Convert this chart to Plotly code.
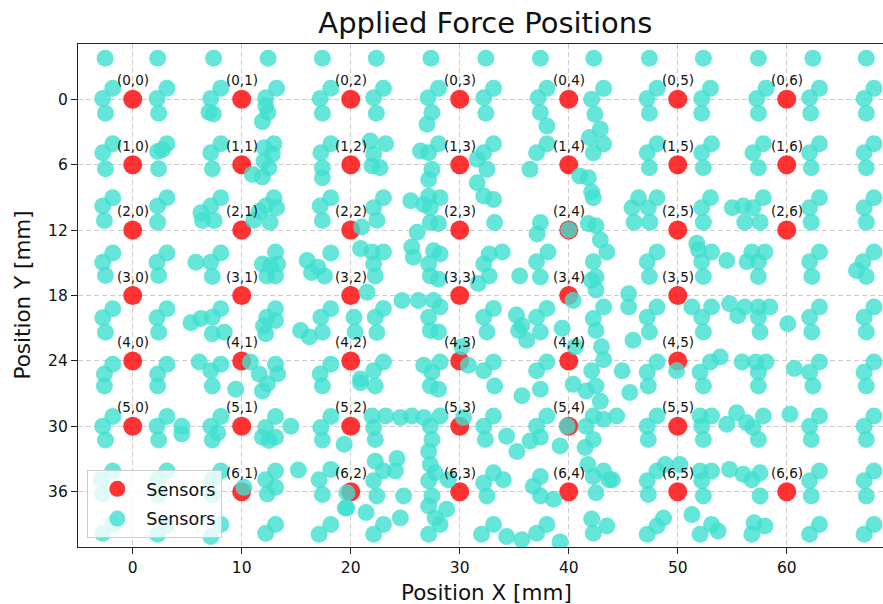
import plotly.graph_objects as go

# ---------------- data ----------------
sensor_cols_mm = [0, 10, 20, 30, 40, 50, 60]
sensor_rows_mm = [0, 6, 12, 18, 24, 30, 36]
# grid cells (row, col) with no sensor drawn in the reference
absent_sensors = [(3, 6), (4, 6), (5, 6), (6, 0)]
x_ticks = [0, 10, 20, 30, 40, 50, 60]
y_ticks = [0, 6, 12, 18, 24, 30, 36]

# applied force positions (x, y) in mm, grouped in horizontal bands
forces_top = [(-2.53, -3.76), (2.29, -3.76), (7.42, -3.76), (12.42, -3.76), (17.4, -3.76),
              (22.35, -3.76), (27.36, -3.76), (32.4, -3.76), (37.4, -3.76), (42.3, -3.76),
              (47.4, -3.76), (52.35, -3.76), (57.4, -3.76), (62.4, -3.76), (67.3, -3.76)]

forces_band0 = [(-1.83, -1.01), (-2.75, -0.06), (-2.5, 1.29), (3.14, -1.01), (2.23, -0.06), (2.38, 1.29),
                (8.08, -1.01), (7.16, -0.06), (7.0, 1.2), (7.4, 1.35), (13.2, -1.01), (12.2, -0.15),
                (12.4, 1.22), (11.9, 2.05), (12.2, 0.6), (18.17, -1.01), (17.2, -0.06), (17.4, 1.29),
                (23.0, -1.0), (22.1, -0.15), (22.35, 1.29), (28.05, -1.0), (27.1, -0.15), (27.45, 1.22),
                (27.0, 2.3), (33.1, -1.0), (32.2, -0.15), (32.4, 1.29), (38.0, -1.0), (37.2, -0.15),
                (37.4, 1.22), (38.0, 2.45), (43.2, -1.0), (42.1, 0.0), (42.4, 1.38),
                (48.1, -1.0), (47.2, -0.06), (47.4, 1.29), (53.0, -1.0), (52.2, -0.06), (52.2, 1.29),
                (58.1, -1.0), (57.25, -0.06), (57.4, 1.29), (63.0, -1.0), (62.1, -0.15), (62.2, 1.29),
                (68.0, -1.0), (67.1, -0.06), (67.3, 1.29)]

forces_band1 = [(-1.83, 4.07), (-2.75, 4.9), (-2.5, 6.37), (3.14, 4.07), (2.29, 4.8), (2.38, 6.37), (2.75, 4.6),
                (8.08, 4.07), (7.16, 4.9), (7.3, 6.37), (12.96, 4.07), (12.05, 4.44), (12.8, 5.05),
                (12.05, 5.66), (12.5, 6.28), (10.98, 6.89), (11.9, 7.13), (18.17, 4.07), (17.26, 4.9),
                (17.4, 6.28), (17.4, 7.19),
                (21.8, 3.83), (23.2, 4.07), (22.1, 5.05), (21.95, 6.12), (22.7, 6.28),
                (26.4, 4.75), (27.15, 4.9), (28.05, 4.07), (27.45, 6.43), (27.15, 7.35),
                (33.1, 4.07), (32.2, 4.9), (31.6, 5.5), (32.5, 6.43), (31.6, 7.65), (32.2, 8.87), (33.1, 9.2),
                (38.0, 4.07), (37.05, 4.9), (36.45, 6.43),
                (41.9, 3.5), (42.9, 2.75), (43.2, 4.1), (42.25, 4.9), (41.0, 7.04), (41.8, 7.2),
                (42.1, 8.5), (42.25, 9.03),
                (48.1, 4.07), (47.2, 4.9), (47.4, 6.28), (53.1, 4.07), (52.2, 4.9), (52.35, 6.28),
                (57.85, 4.07), (56.9, 4.9), (57.4, 6.28), (63.0, 4.07), (62.1, 4.9), (62.25, 6.28),
                (68.0, 4.07), (67.1, 4.9), (67.3, 6.28)]

forces_band2 = [(-1.83, 9.03), (-2.75, 9.8), (3.14, 9.03), (2.29, 9.8), (8.08, 9.03), (7.16, 9.8),
                (6.25, 10.4), (12.96, 9.03), (12.2, 9.8), (13.2, 9.95), (11.6, 10.3), (18.17, 9.03),
                (17.2, 9.8),
                (23.0, 9.03), (22.1, 9.95), (25.5, 9.3), (26.7, 9.65), (27.15, 8.9), (28.2, 9.03), (27.3, 9.95),
                (46.4, 9.03), (45.8, 9.95), (47.3, 9.95), (48.1, 9.03), (53.0, 9.03), (52.2, 9.95),
                (55.0, 9.95), (56.9, 9.95), (57.85, 9.03), (56.0, 9.8), (63.0, 9.03), (62.1, 9.95),
                (68.0, 9.03), (67.1, 9.95),
                (-2.6, 11.11), (2.29, 11.27), (6.4, 11.11), (7.47, 11.11), (11.1, 11.1), (12.6, 11.27),
                (17.4, 11.11), (21.0, 11.72), (22.4, 11.1), (26.1, 12.2), (27.3, 11.3), (28.05, 11.4),
                (33.2, 11.3), (37.4, 11.3), (37.1, 12.35), (40.0, 12.0), (41.8, 11.4), (42.5, 11.6),
                (46.0, 11.27), (47.45, 11.27), (52.35, 11.27), (56.15, 11.27), (57.55, 11.27),
                (62.25, 11.27), (67.3, 11.27)]

forces_band3 = [(-1.83, 14.11), (-2.75, 14.94), (-2.5, 16.16), (3.14, 14.11), (2.23, 14.94), (2.38, 16.16),
                (8.08, 14.11), (5.8, 14.94), (7.16, 14.94), (7.3, 16.25), (13.1, 14.02), (11.9, 15.1),
                (12.65, 15.25), (13.3, 15.1), (12.3, 16.2), (13.1, 16.2), (18.17, 14.11), (16.0, 14.8),
                (17.0, 15.4), (17.6, 16.2), (16.4, 15.9),
                (20.9, 13.7), (21.95, 14.0), (23.0, 14.0), (22.1, 15.1), (22.25, 16.2),
                (25.6, 13.55), (25.75, 14.5), (27.6, 13.9), (28.2, 14.2), (27.15, 15.1), (27.3, 16.2),
                (28.05, 16.5), (32.7, 14.2), (33.9, 14.0), (32.2, 15.1), (32.7, 16.2), (31.7, 16.9),
                (38.1, 14.0), (37.05, 14.9), (35.5, 16.2), (37.4, 16.3), (42.9, 12.9), (43.5, 14.0),
                (42.25, 14.9), (42.5, 16.3),
                (48.1, 14.0), (47.2, 14.9), (47.4, 16.25), (51.75, 13.2), (51.9, 13.8), (53.1, 14.0),
                (52.2, 14.9), (52.35, 16.25), (54.5, 14.8), (56.8, 14.0), (58.0, 14.0), (56.35, 14.9),
                (57.4, 14.9), (57.4, 16.25), (63.0, 14.0), (62.1, 14.9), (62.3, 16.25), (68.0, 14.0),
                (67.0, 14.9), (66.4, 15.7), (67.3, 16.25)]

forces_band4 = [(-1.83, 19.22), (-2.75, 20.05), (-2.5, 21.37), (3.14, 19.22), (2.23, 20.05), (2.38, 21.37),
                (8.08, 19.22), (7.3, 20.0), (6.25, 20.1), (5.34, 20.5), (7.3, 21.5), (8.4, 21.37),
                (13.1, 19.22), (12.3, 20.0), (13.1, 20.3), (12.0, 20.8), (12.2, 21.5), (18.17, 19.22),
                (17.26, 20.0), (17.4, 21.37), (15.4, 21.2), (16.2, 21.8),
                (21.5, 17.7), (20.3, 20.0), (22.25, 20.0), (23.0, 19.2), (22.4, 21.4), (20.4, 21.35),
                (24.7, 18.45), (26.2, 18.45), (27.6, 18.45), (28.2, 19.05), (27.15, 20.0), (27.3, 21.2),
                (28.05, 21.35), (33.1, 19.2), (32.2, 20.0), (32.5, 21.35), (35.2, 19.8), (35.7, 20.75),
                (37.05, 20.0), (38.0, 19.2), (35.4, 21.2), (36.15, 22.1), (37.4, 21.35), (40.4, 18.45),
                (39.4, 21.0), (40.6, 22.7), (42.1, 16.6), (42.5, 17.5), (43.2, 19.05), (42.25, 20.1),
                (42.5, 21.2), (43.0, 22.7), (30.2, 22.7),
                (45.5, 17.85), (45.5, 19.05), (48.1, 19.05), (47.2, 20.0), (47.4, 21.35), (45.9, 22.1),
                (51.3, 19.05), (52.2, 20.0), (53.1, 19.05), (52.35, 21.35), (54.75, 18.75), (55.5, 19.85),
                (56.15, 19.05), (57.4, 19.05), (58.45, 19.05), (57.4, 20.0), (57.55, 21.35), (60.1, 20.6),
                (63.0, 19.05), (62.1, 20.0), (62.3, 21.35), (68.0, 19.05), (67.1, 20.0), (67.3, 21.35)]

forces_band5 = [(-2.6, 25.2), (-1.83, 24.3), (2.29, 25.2), (3.14, 24.3), (6.1, 24.1), (7.16, 24.9),
                (8.08, 24.3), (10.8, 24.1), (13.1, 24.3), (11.6, 25.2), (13.3, 25.2), (18.17, 24.3),
                (17.2, 25.2),
                (23.0, 24.1), (22.1, 24.9), (20.9, 25.65), (26.7, 24.4), (28.2, 24.1), (27.45, 25.05),
                (30.8, 24.4), (33.1, 24.1), (32.2, 24.9), (38.0, 24.1), (37.05, 24.9), (43.2, 23.9),
                (42.1, 24.9),
                (44.9, 24.9), (48.1, 24.1), (47.2, 25.05), (49.9, 24.9), (52.05, 25.05), (53.0, 24.1),
                (53.9, 23.65), (55.9, 24.1), (57.15, 24.1), (58.1, 24.1), (57.4, 25.05), (60.7, 24.7),
                (63.0, 24.1), (62.1, 25.05), (68.0, 24.1), (67.1, 25.05),
                (-2.6, 26.3), (2.29, 26.3), (7.3, 26.3), (9.45, 26.6), (11.9, 26.75), (12.35, 26.1),
                (17.4, 26.3), (20.9, 26.0), (22.25, 26.3), (27.3, 26.3), (28.05, 26.6), (33.2, 26.3),
                (35.7, 27.2), (37.4, 26.6), (40.4, 26.15), (41.6, 26.75), (42.5, 26.3), (42.9, 27.7),
                (45.6, 26.9), (47.3, 26.3), (52.35, 26.3), (57.4, 26.3), (62.4, 26.3), (67.3, 26.3)]

forces_band6 = [(-1.83, 29.1), (-2.75, 30.0), (-2.5, 31.25), (3.14, 29.1), (2.23, 30.0), (2.38, 31.25),
                (4.5, 30.0), (4.5, 30.7), (8.08, 29.1), (7.16, 30.0), (7.8, 30.6), (7.3, 31.25),
                (13.1, 29.1), (14.5, 30.0), (12.2, 30.1), (11.9, 31.0), (13.1, 31.0), (12.5, 31.3),
                (18.17, 29.1), (17.26, 30.1), (17.4, 31.25), (19.4, 31.65),
                (21.95, 29.05), (23.2, 29.05), (24.55, 29.2), (25.6, 29.05), (26.7, 29.2), (28.2, 29.05),
                (22.1, 30.1), (22.25, 31.2), (27.3, 30.0), (27.45, 31.2), (27.15, 32.3), (30.35, 29.2),
                (32.2, 30.0), (33.1, 29.05), (32.35, 31.2), (34.3, 30.9), (35.25, 32.3), (36.45, 31.35),
                (37.4, 31.0), (37.05, 30.0), (38.0, 29.05), (39.2, 31.8), (39.85, 30.0), (41.6, 30.0),
                (42.25, 29.05), (43.2, 29.35), (42.25, 31.2), (41.5, 31.95),
                (44.4, 29.05), (48.1, 29.05), (47.2, 30.0), (47.3, 31.2), (52.05, 29.05), (53.1, 29.05),
                (52.2, 30.0), (52.35, 31.2), (54.5, 29.8), (55.4, 28.75), (56.3, 29.65), (56.9, 30.1),
                (57.85, 29.05), (57.4, 31.2), (60.3, 28.9), (62.1, 30.0), (63.0, 29.05), (62.25, 31.2),
                (67.1, 30.0), (68.0, 29.05), (67.3, 31.2)]

forces_band7 = [(-1.83, 34.1), (-2.9, 34.9), (-2.75, 36.2), (3.14, 34.1), (2.29, 34.9), (2.38, 36.3),
                (8.08, 34.1), (7.3, 34.9), (7.3, 36.3), (10.2, 35.6), (13.1, 34.1), (12.2, 34.9),
                (13.1, 35.6), (12.35, 36.2), (15.2, 34.0), (18.17, 33.95), (17.1, 34.9), (17.4, 36.25),
                (19.5, 37.5),
                (19.65, 36.1), (19.65, 37.5), (22.25, 33.2), (23.0, 34.1), (24.1, 34.1), (22.1, 35.0),
                (22.4, 36.4), (24.85, 36.4), (24.25, 32.95), (21.4, 37.9), (24.55, 38.4),
                (27.3, 33.5), (27.75, 34.25), (27.15, 35.0), (27.45, 36.4), (27.15, 37.3), (27.75, 38.4),
                (28.8, 37.6), (28.95, 34.9), (32.2, 35.2), (33.1, 34.25), (34.0, 34.9), (32.5, 36.4),
                (36.75, 35.5), (37.4, 36.4), (37.4, 34.6), (38.6, 36.7), (41.75, 33.5), (42.25, 34.6),
                (43.2, 34.1), (43.7, 34.9), (42.5, 36.1), (42.1, 38.5),
                (44.0, 34.9), (48.85, 33.5), (48.1, 34.1), (47.2, 35.0), (47.3, 36.25), (50.2, 33.5),
                (52.05, 34.1), (53.1, 34.1), (52.2, 35.0), (52.35, 36.4), (54.75, 33.95), (56.0, 34.4),
                (56.8, 34.9), (57.55, 34.25), (57.55, 36.4), (62.1, 35.0), (63.0, 34.1), (62.25, 36.4),
                (67.1, 35.0), (68.0, 34.1), (67.3, 36.4), (51.3, 38.1), (48.7, 38.4)]

forces_band8 = [(13.1, 39.0), (12.2, 39.8), (18.17, 39.0), (17.1, 39.9), (8.08, 39.0), (7.16, 40.1),
                (-2.75, 39.8), (-1.83, 39.0), (3.14, 39.0), (2.29, 39.9),
                (23.0, 39.0), (22.1, 39.9), (28.2, 39.0), (27.15, 39.9), (33.1, 39.0), (32.0, 39.9),
                (34.3, 40.1), (35.7, 40.4), (37.05, 39.8), (38.0, 39.0), (39.2, 40.6), (42.25, 39.8),
                (43.5, 39.15),
                (48.1, 39.15), (47.2, 39.9), (52.05, 39.9), (53.1, 39.0), (53.7, 39.6), (57.0, 38.85),
                (58.0, 39.15), (56.8, 39.9), (62.1, 39.9), (63.0, 39.0), (67.1, 39.9), (68.0, 39.0)]

force_bands = [forces_top, forces_band0, forces_band1, forces_band2, forces_band3,
               forces_band4, forces_band5, forces_band6, forces_band7, forces_band8]

# ---------------- build ----------------
sensor_x, sensor_y, sensor_labels = [], [], []
for i, yv in enumerate(sensor_rows_mm):
    for j, xv in enumerate(sensor_cols_mm):
        if (i, j) in absent_sensors:
            continue
        sensor_x.append(xv)
        sensor_y.append(yv)
        sensor_labels.append(f"({i},{j})")

force_x = [p[0] for band in force_bands for p in band]
force_y = [p[1] for band in force_bands for p in band]

FONT = "DejaVu Sans"

fig = go.Figure()
fig.add_trace(go.Scatter(
    x=sensor_x, y=sensor_y, mode="markers", name="Sensors", legendgroup="a",
    marker=dict(color="red", size=19, opacity=0.8, line=dict(width=0)),
))
fig.add_trace(go.Scatter(
    x=force_x, y=force_y, mode="markers", name="Sensors", legendgroup="b",
    marker=dict(color="#40E0D0", size=17, opacity=0.8, line=dict(width=0)),
))

annotations = []
for sx, sy, lab in zip(sensor_x, sensor_y, sensor_labels):
    annotations.append(dict(x=sx, y=sy, xref="x", yref="y", text=lab, showarrow=False,
                            yshift=19, font=dict(family=FONT, size=13.5, color="#111111")))

# axis titles as annotations (reference axes extend past the right edge of the image)
annotations.append(dict(x=0.5077, y=0, xref="paper", yref="paper", text="Position X [mm]",
                        showarrow=False, yanchor="middle", yshift=-45,
                        font=dict(family=FONT, size=21.5, color="#111111")))
annotations.append(dict(x=0, y=0.5, xref="paper", yref="paper", text="Position Y [mm]",
                        showarrow=False, textangle=-90, xanchor="center", xshift=-56,
                        font=dict(family=FONT, size=21.5, color="#111111")))

axis_common = dict(
    showline=True, linecolor="#222222", linewidth=1.3, mirror=True,
    ticks="outside", ticklen=6, tickwidth=1.2, tickcolor="#222222",
    tickfont=dict(family=FONT, size=15.5, color="#111111"),
    showgrid=True, gridcolor="#cccccc", gridwidth=1, griddash="5px,3px",
    zeroline=False,
)

fig.update_layout(
    width=883, height=604,
    margin=dict(l=78, r=0, t=44, b=57),
    paper_bgcolor="white", plot_bgcolor="white",
    title=dict(text="Applied Force Positions", x=0.506, xref="paper", xanchor="center",
               y=0.962, yref="container", yanchor="middle",
               font=dict(family=FONT, size=29, color="#111111")),
    xaxis=dict(range=[-5.02, 68.83], tickvals=x_ticks, **axis_common),
    yaxis=dict(range=[41.07, -5.07], tickvals=y_ticks, **axis_common),
    legend=dict(x=0.0116, y=0.018, xanchor="left", yanchor="bottom",
                bgcolor="rgba(255,255,255,0.8)", bordercolor="#cccccc", borderwidth=1,
                font=dict(family=FONT, size=17.5, color="#111111"), itemwidth=48,
                tracegroupgap=4),
    annotations=annotations,
    showlegend=True,
)

fig.write_html("out.html")
